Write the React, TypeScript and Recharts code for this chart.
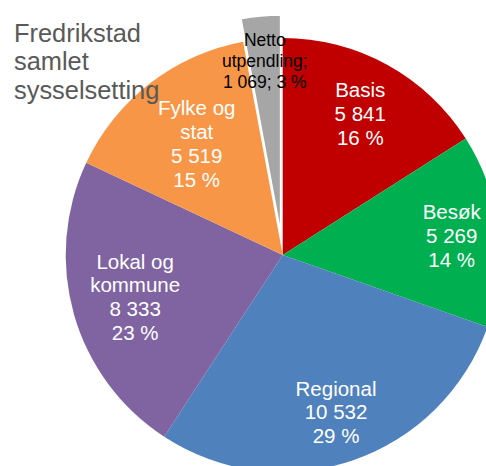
import React from 'react';
import { PieChart, Pie, Cell } from 'recharts';

const categories = ['Basis', 'Besøk', 'Regional', 'Lokal og kommune', 'Fylke og stat', 'Netto utpendling'];
const values = [5841, 5269, 10532, 8333, 5519, 1069];
const colors = ['#C00000', '#00B050', '#4F81BD', '#8064A2', '#F79646', '#A6A6A6'];
const nameLines = [['Basis'], ['Besøk'], ['Regional'], ['Lokal og', 'kommune'], ['Fylke og', 'stat'], ['Netto', 'utpendling;']];
const titleLines = ['Fredrikstad', 'samlet', 'sysselsetting'];

const explodedCategory = 'Netto utpendling';
// label distance from centre as a fraction of the radius (Excel "best fit")
const labelRadiusFactor = [0.743, 0.784, 0.764, 0.707, 0.648, 0.899];

const RADIAN = Math.PI / 180;
const CX = 282.7;
const CY = 255;
const R = 217;
const EXPLODE = 23;
const START = 90;
const END = -270;

const total = values.reduce((a, b) => a + b, 0);
const data = categories.map((name, i) => ({ name, value: values[i] }));

// centre of the exploded slice, derived from its angular position in the pie
const exIdx = categories.indexOf(explodedCategory);
const exBefore = values.slice(0, exIdx).reduce((a, b) => a + b, 0);
const exMid = START + (END - START) * ((exBefore + values[exIdx] / 2) / total);
const EX_CX = CX + EXPLODE * Math.cos(-exMid * RADIAN);
const EX_CY = CY + EXPLODE * Math.sin(-exMid * RADIAN);

const fmt = (v: number) => String(v).replace(/\B(?=(\d{3})+(?!\d))/g, ' ');
const pct = (v: number) => `${Math.round((v / total) * 100)} %`;

const FONT = '"Liberation Sans", Arial, sans-serif';

const renderLabel = (props: any) => {
  const { midAngle, index } = props;
  const v = values[index];
  const isExploded = categories[index] === explodedCategory;
  const lines = isExploded
    ? [...nameLines[index], `${fmt(v)}; ${pct(v)}`]
    : [...nameLines[index], fmt(v), pct(v)];
  const r = R * labelRadiusFactor[index];
  const x = CX + r * Math.cos(-midAngle * RADIAN);
  const y = CY + r * Math.sin(-midAngle * RADIAN);
  const fs = isExploded ? 17.5 : 20.5;
  const lh = isExploded ? 21.3 : 23.8;
  const first = y - ((lines.length - 1) / 2) * lh + (fs * 0.716) / 2;
  return (
    <text
      key={`lbl-${index}`}
      x={x}
      y={first}
      textAnchor="middle"
      fill={isExploded ? '#000000' : '#FFFFFF'}
      fontSize={fs}
      fontFamily={FONT}
    >
      {lines.map((l, i) => (
        <tspan key={i} x={x} y={first + i * lh}>
          {l}
        </tspan>
      ))}
    </text>
  );
};

export default function App() {
  return (
    <div
      style={{
        position: 'absolute',
        left: 0,
        top: 0,
        width: 486,
        height: 466,
        overflow: 'hidden',
        background: '#FFFFFF',
      }}
    >
      <PieChart width={486} height={466} margin={{ top: 0, right: 0, bottom: 0, left: 0 }}>
        <Pie
          data={data}
          dataKey="value"
          nameKey="name"
          cx={CX}
          cy={CY}
          outerRadius={R}
          startAngle={START}
          endAngle={END}
          stroke="none"
          isAnimationActive={false}
          labelLine={false}
          label={false}
        >
          {data.map((d, i) => (
            <Cell key={d.name} fill={d.name === explodedCategory ? 'transparent' : colors[i]} stroke="none" />
          ))}
        </Pie>
        <Pie
          data={data}
          dataKey="value"
          nameKey="name"
          cx={EX_CX}
          cy={EX_CY}
          outerRadius={R}
          startAngle={START}
          endAngle={END}
          stroke="none"
          isAnimationActive={false}
          labelLine={false}
          label={renderLabel}
        >
          {data.map((d, i) => (
            <Cell
              key={d.name}
              fill={d.name === explodedCategory ? colors[i] : 'transparent'}
              stroke={d.name === explodedCategory ? '#FFFFFF' : 'none'}
              strokeWidth={d.name === explodedCategory ? 1.5 : 0}
            />
          ))}
        </Pie>
      </PieChart>
      <div
        style={{
          position: 'absolute',
          left: 14,
          top: 19,
          fontFamily: FONT,
          fontSize: 25.4,
          lineHeight: '28.3px',
          color: '#595959',
          pointerEvents: 'none',
        }}
      >
        {titleLines.map((t) => (
          <div key={t}>{t}</div>
        ))}
      </div>
    </div>
  );
}
